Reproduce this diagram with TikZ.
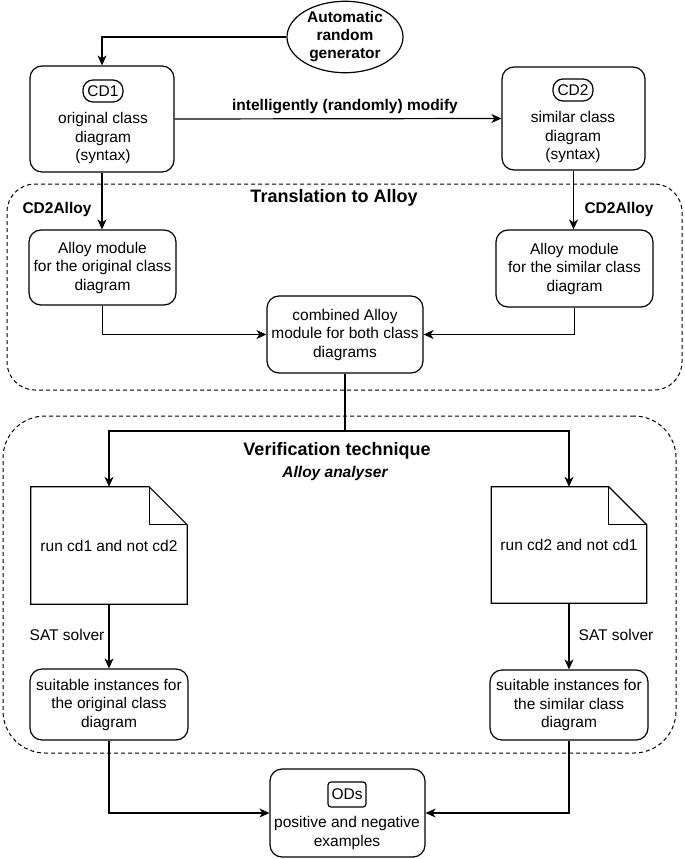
\documentclass[tikz,border=0pt]{standalone}
\usepackage{fontspec}
\setmainfont{Liberation Sans}
\usepackage{tikz}
\usetikzlibrary{calc,arrows.meta,shapes.geometric}

\begin{document}
\begin{tikzpicture}[x=1pt,y=-1pt,>={Stealth[length=10pt,width=9pt,inset=3pt]},
  every node/.style={font=\fontsize{15.5}{18.5}\selectfont,inner sep=0pt},
  box/.style={draw,line width=1.2pt,rounded corners=12pt,align=center},
  pill/.style={draw,line width=1.2pt,rounded corners=10pt,minimum width=40pt,minimum height=22pt},
  group/.style={draw,line width=1pt,dash pattern=on 4pt off 3pt,rounded corners=#1},
  lbl/.style={font=\fontsize{15.5}{18.5}\selectfont\bfseries},
  ttl/.style={font=\fontsize{18}{21}\selectfont\bfseries},
  line/.style={line width=1.2pt}]

\useasboundingbox (0,0) rectangle (685,859);

%top row
\node[draw,line width=1.2pt,ellipse,minimum width=116pt,minimum height=70pt,align=center,
  font=\fontsize{15.5}{18}\selectfont\bfseries] (gen) at (345,37) {Automatic\\random\\generator};

\node[box,minimum width=144pt,minimum height=106pt] (cd1) at (102,119) {};
\node[pill] (cd1tag) at (103,91) {CD1};
\node[align=center] (cd1txt) at (103,138) {original class\\diagram\\(syntax)};

\node[box,minimum width=143pt,minimum height=103pt] (cd2) at (573.5,118.5) {};
\node[pill] (cd2tag) at (573,90) {CD2};
\node[align=center] (cd2txt) at (573,137) {similar class\\diagram\\(syntax)};

\draw[line,->] (gen.west) -| (cd1.north);
\draw[line,->] (cd1.east) -- (cd2.west);
\node[lbl] (modlbl) at (345,107) {intelligently (randomly) modify};

%translation
\node[group=28pt,minimum width=675pt,minimum height=206pt] (trans) at (344.5,287) {};
\node[ttl] (transttl) at (334,198) {Translation to Alloy};

\node[box,minimum width=147pt,minimum height=75pt] (alm1) at (102.5,267.5)
  {Alloy module\\for the original class\\diagram};
\node[box,minimum width=157pt,minimum height=77pt] (alm2) at (574.5,268.5)
  {Alloy module\\for the similar class\\diagram};
\node[box,minimum width=156pt,minimum height=77pt] (comb) at (345,334.5)
  {combined Alloy\\module for both class\\diagrams};

\draw[line,->] (cd1.south) -- (cd1.south |- alm1.north);
\draw[line,->] (cd2.south) -- (cd2.south |- alm2.north);
\node[lbl] (c2a1) at (57,209) {CD2Alloy};
\node[lbl] (c2a2) at (619,209) {CD2Alloy};
\draw[line,->] (alm1.south) |- (comb.west);
\draw[line,->] (alm2.south) |- (comb.east);

%verification
\node[group=42pt,minimum width=673pt,minimum height=337pt] (verif) at (339.5,584.5) {};
\node[ttl] (verifttl) at (337,451) {Verification technique};
\node[lbl,font=\fontsize{15.5}{18.5}\selectfont\bfseries\itshape] (verifsub) at (335,473) {Alloy analyser};

\node[minimum width=156pt,minimum height=117pt] (doca) at (109,545.5) {run cd1 and not cd2};
\node[minimum width=155pt,minimum height=116pt] (docb) at (569,545) {run cd2 and not cd1};
\foreach \d in {doca,docb}{
  \draw[line] (\d.north west) -- ($(\d.north east)+(-38,0)$) -- ($(\d.north east)+(0,38)$)
    -- (\d.south east) -- (\d.south west) -- cycle;
  \draw[line] ($(\d.north east)+(-38,0)$) -- ($(\d.north east)+(-38,38)$) -- ($(\d.north east)+(0,38)$);
}

\coordinate (split) at (345,431);
\draw[line] (comb.south) -- (split);
\draw[line,->] (split) -| (doca.north);
\draw[line,->] (split) -| (docb.north);

\node[box,minimum width=158pt,minimum height=71pt] (suita) at (109,704.5)
  {suitable instances for\\the original class\\diagram};
\node[box,minimum width=158pt,minimum height=70pt] (suitb) at (569,705)
  {suitable instances for\\the similar class\\diagram};
\draw[line,->] (doca.south) -- (suita.north);
\draw[line,->] (docb.south) -- (suitb.north);
\node (sat1) at (67,635) {SAT solver};
\node (sat2) at (616,635) {SAT solver};

%result
\node[box,minimum width=155pt,minimum height=88pt] (ods) at (347.5,813) {};
\node[draw,line width=1.2pt,rounded corners=3pt,minimum width=38pt,minimum height=25pt] (odstag) at (347,794.5) {ODs};
\node[align=center] (odstxt) at (347,833) {positive and negative\\examples};
\draw[line,->] (suita.south) |- (ods.west);
\draw[line,->] (suitb.south) |- (ods.east);

\end{tikzpicture}
\end{document}
